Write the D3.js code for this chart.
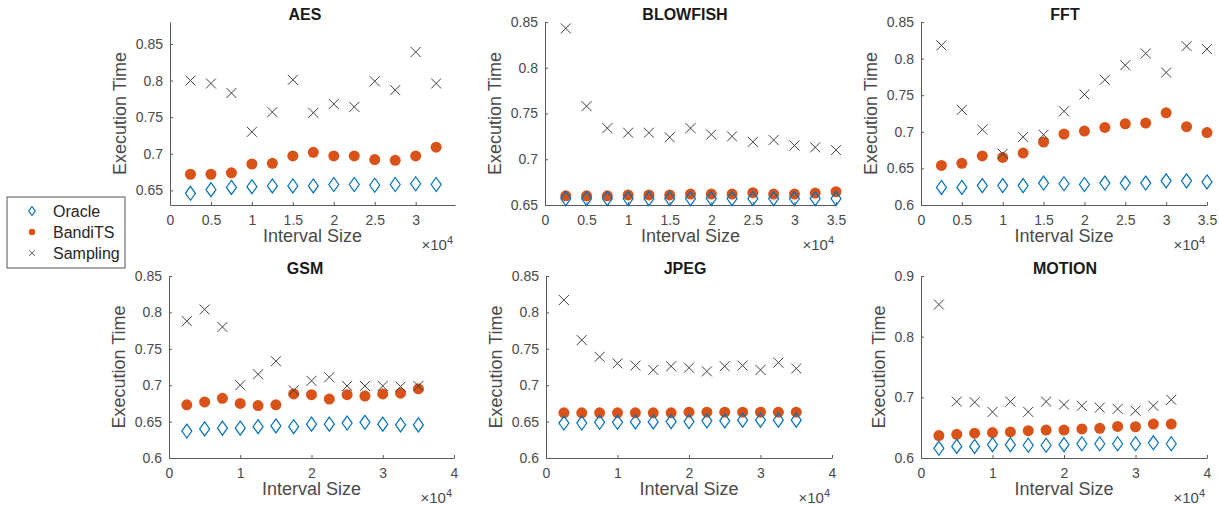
<!DOCTYPE html>
<html>
<head>
<meta charset="utf-8">
<script src="https://cdn.jsdelivr.net/npm/d3@7"></script>
<style>
  body { margin: 0; background: #fff; }
  text { font-family: "Liberation Sans", Arial, Helvetica, sans-serif; }
</style>
</head>
<body>
<div id="chart"></div>
<script>
// DATA
var titles = ["AES", "BLOWFISH", "FFT", "GSM", "JPEG", "MOTION"];
var seriesNames = ["Oracle", "BandiTS", "Sampling"];

var intervalSizes = [2500, 5000, 7500, 10000, 12500, 15000, 17500, 20000, 22500, 25000, 27500, 30000, 32500, 35000];
var aesIntervals = [2500, 5000, 7500, 10000, 12500, 15000, 17500, 20000, 22500, 25000, 27500, 30000, 32500];

var aesOracle = [0.646, 0.651, 0.654, 0.655, 0.656, 0.656, 0.656, 0.658, 0.658, 0.657, 0.658, 0.659, 0.658];
var aesBandits = [0.672, 0.672, 0.674, 0.686, 0.687, 0.697, 0.702, 0.697, 0.697, 0.692, 0.691, 0.697, 0.709];
var aesSampling = [0.800, 0.796, 0.783, 0.730, 0.757, 0.801, 0.756, 0.768, 0.764, 0.799, 0.787, 0.839, 0.796];

var blowfishOracle = [0.657, 0.657, 0.657, 0.657, 0.657, 0.657, 0.657, 0.657, 0.657, 0.657, 0.657, 0.657, 0.657, 0.657];
var blowfishBandits = [0.660, 0.660, 0.660, 0.661, 0.661, 0.661, 0.662, 0.662, 0.662, 0.6635, 0.662, 0.662, 0.663, 0.6645];
var blowfishSampling = [0.843, 0.758, 0.734, 0.729, 0.729, 0.724, 0.734, 0.727, 0.725, 0.719, 0.721, 0.715, 0.713, 0.710];

var fftOracle = [0.624, 0.624, 0.6265, 0.6265, 0.6265, 0.630, 0.629, 0.628, 0.630, 0.630, 0.630, 0.633, 0.633, 0.6315];
var fftBandits = [0.654, 0.657, 0.667, 0.665, 0.671, 0.686, 0.697, 0.701, 0.706, 0.711, 0.712, 0.726, 0.707, 0.699];
var fftSampling = [0.818, 0.730, 0.703, 0.670, 0.693, 0.696, 0.728, 0.751, 0.771, 0.791, 0.807, 0.781, 0.817, 0.813];

var gsmOracle = [0.637, 0.640, 0.641, 0.641, 0.643, 0.644, 0.643, 0.6465, 0.6465, 0.648, 0.649, 0.6465, 0.6455, 0.6455];
var gsmBandits = [0.673, 0.677, 0.682, 0.675, 0.672, 0.673, 0.688, 0.687, 0.681, 0.687, 0.685, 0.688, 0.689, 0.695];
var gsmSampling = [0.788, 0.804, 0.780, 0.700, 0.715, 0.733, 0.693, 0.706, 0.711, 0.699, 0.699, 0.699, 0.698, 0.699];

var jpegOracle = [0.648, 0.648, 0.649, 0.649, 0.6495, 0.6495, 0.650, 0.650, 0.651, 0.651, 0.652, 0.652, 0.652, 0.652];
var jpegBandits = [0.662, 0.662, 0.662, 0.662, 0.662, 0.662, 0.662, 0.663, 0.663, 0.663, 0.663, 0.663, 0.663, 0.663];
var jpegSampling = [0.817, 0.762, 0.739, 0.730, 0.727, 0.721, 0.726, 0.724, 0.719, 0.726, 0.727, 0.721, 0.731, 0.723];

var motionOracle = [0.616, 0.619, 0.619, 0.622, 0.622, 0.621, 0.621, 0.622, 0.6235, 0.6235, 0.6235, 0.6235, 0.625, 0.6235];
var motionBandits = [0.637, 0.639, 0.641, 0.642, 0.643, 0.645, 0.646, 0.646, 0.648, 0.649, 0.652, 0.6515, 0.656, 0.656];
var motionSampling = [0.853, 0.693, 0.692, 0.676, 0.693, 0.676, 0.693, 0.688, 0.686, 0.683, 0.681, 0.678, 0.686, 0.696];

// axis limits and tick labels
var yDomains = [[0.63, 0.88], [0.65, 0.85], [0.6, 0.85], [0.6, 0.85], [0.6, 0.85], [0.6, 0.9]];
var xDomains = [[0, 34800], [0, 35000], [0, 35000], [0, 40000], [0, 40000], [0, 40000]];
var yTicksA = [0.65, 0.7, 0.75, 0.8, 0.85];
var yTicksB = [0.6, 0.65, 0.7, 0.75, 0.8, 0.85];
var yTicksC = [0.6, 0.7, 0.8, 0.9];
var xTicksA = [0, 5000, 10000, 15000, 20000, 25000, 30000];
var xTicksB = [0, 5000, 10000, 15000, 20000, 25000, 30000, 35000];
var xTicksC = [0, 10000, 20000, 30000, 40000];

var panels = [
  { x: aesIntervals, series: [aesOracle, aesBandits, aesSampling], yTicks: yTicksA, xTicks: xTicksA },
  { x: intervalSizes, series: [blowfishOracle, blowfishBandits, blowfishSampling], yTicks: yTicksA, xTicks: xTicksB },
  { x: intervalSizes, series: [fftOracle, fftBandits, fftSampling], yTicks: yTicksB, xTicks: xTicksB },
  { x: intervalSizes, series: [gsmOracle, gsmBandits, gsmSampling], yTicks: yTicksB, xTicks: xTicksC },
  { x: intervalSizes, series: [jpegOracle, jpegBandits, jpegSampling], yTicks: yTicksB, xTicks: xTicksC },
  { x: intervalSizes, series: [motionOracle, motionBandits, motionSampling], yTicks: yTicksC, xTicks: xTicksC }
];

// LAYOUT
var boxes = [
  { left: 170, right: 455, top: 22, bottom: 205 },
  { left: 545, right: 836, top: 22, bottom: 205 },
  { left: 921, right: 1207, top: 22, bottom: 205 },
  { left: 169, right: 454, top: 276, bottom: 458 },
  { left: 546, right: 832, top: 276, bottom: 458 },
  { left: 921, right: 1207, top: 276, bottom: 458 }
];
var titleX = [305, 685, 1065];

var colors = ["#0072BD", "#D95319", "#404040"];
var axisColor = "#5a5a5a";
var textColor = "#4a4a4a";

var svg = d3.select("#chart")
  .append("svg")
  .attr("width", 1219)
  .attr("height", 505);

var diamondPath = "M0,-7L5,0L0,7L-5,0Z";
var crossPath = "M-5,-5L5,5M-5,5L5,-5";

panels.forEach(function(p, i) {
  var b = boxes[i];
  var g = svg.append("g").attr("transform", `translate(${b.left}, ${b.top})`);
  var w = b.right - b.left;
  var h = b.bottom - b.top;

  var x = d3.scaleLinear().domain(xDomains[i]).range([0, w]);
  var y = d3.scaleLinear().domain(yDomains[i]).range([h, 0]);

  var xAxis = g.append("g")
    .attr("transform", `translate(0, ${h})`)
    .call(d3.axisBottom(x).tickValues(p.xTicks).tickSizeInner(-3).tickSizeOuter(0).tickPadding(10)
      .tickFormat(function(d) { return String(d / 10000); }));

  var yAxis = g.append("g")
    .call(d3.axisLeft(y).tickValues(p.yTicks).tickSizeInner(-3).tickSizeOuter(0).tickPadding(7)
      .tickFormat(function(d) { return String(d); }));

  [xAxis, yAxis].forEach(function(a) {
    a.select(".domain").attr("stroke", axisColor).attr("stroke-width", 1);
    a.selectAll(".tick line").attr("stroke", axisColor);
    a.selectAll(".tick text")
      .attr("fill", textColor)
      .style("font-size", "14px")
      .style("font-family", "\"Liberation Sans\", Arial, sans-serif");
  });

  var yw = yAxis.node().getBBox().width;

  // labels
  g.append("text")
    .attr("x", w / 2)
    .attr("y", h + 37)
    .attr("text-anchor", "middle")
    .attr("fill", textColor)
    .style("font-size", "18px")
    .text("Interval Size");

  var xe = g.append("text")
    .attr("x", w - 2)
    .attr("y", h + 45)
    .attr("text-anchor", "end")
    .attr("fill", textColor)
    .style("font-size", "15px");
  xe.append("tspan").text("\u00d710");
  xe.append("tspan").attr("dy", -6).style("font-size", "11px").text("4");

  g.append("text")
    .attr("transform", `translate(${-(yw + 13)}, ${h / 2}) rotate(-90)`)
    .attr("text-anchor", "middle")
    .attr("dy", "0.35em")
    .attr("fill", textColor)
    .style("font-size", "18px")
    .text("Execution Time");

  svg.append("text")
    .attr("x", titleX[i % 3])
    .attr("y", b.top - 2)
    .attr("text-anchor", "middle")
    .attr("fill", "#1a1a1a")
    .style("font-size", "16px")
    .style("font-weight", "bold")
    .text(titles[i]);

  // BANDITS
  g.selectAll(".bandits")
    .data(p.series[1])
    .enter()
    .append("circle")
    .attr("cx", function(d, j) { return x(p.x[j]); })
    .attr("cy", function(d) { return y(d); })
    .attr("r", 5.5)
    .attr("fill", colors[1]);

  // ORACLE
  g.selectAll(".oracle")
    .data(p.series[0])
    .enter()
    .append("path")
    .attr("d", diamondPath)
    .attr("transform", function(d, j) { return `translate(${x(p.x[j])}, ${y(d)})`; })
    .attr("fill", "none")
    .attr("stroke", colors[0])
    .attr("stroke-width", 1.2);

  // SAMPLING
  g.selectAll(".sampling")
    .data(p.series[2])
    .enter()
    .append("path")
    .attr("d", crossPath)
    .attr("transform", function(d, j) { return `translate(${x(p.x[j])}, ${y(d)})`; })
    .attr("fill", "none")
    .attr("stroke", colors[2])
    .attr("stroke-width", 1);
});

// LEGEND
var legend = svg.append("g").attr("transform", "translate(7, 197)");
legend.append("rect")
  .attr("width", 118)
  .attr("height", 71)
  .attr("fill", "#fff")
  .attr("stroke", "#555")
  .attr("stroke-width", 1);

var legendY = d3.scalePoint().domain(seriesNames).range([14, 56]);

seriesNames.forEach(function(name, k) {
  var ly = legendY(name);
  var item = legend.append("g").attr("transform", `translate(25, ${ly})`);
  if (k === 0) {
    item.append("path").attr("d", "M0,-4.5L3.2,0L0,4.5L-3.2,0Z")
      .attr("fill", "none").attr("stroke", colors[0]).attr("stroke-width", 1.2);
  } else if (k === 1) {
    item.append("circle").attr("r", 3.2).attr("fill", colors[1]);
  } else {
    item.append("path").attr("d", "M-3,-3L3,3M-3,3L3,-3")
      .attr("stroke", "#777").attr("stroke-width", 1);
  }
  legend.append("text")
    .attr("x", 46)
    .attr("y", ly)
    .attr("dy", "0.35em")
    .attr("fill", "#262626")
    .style("font-size", "16px")
    .text(name);
});
</script>
</body>
</html>
